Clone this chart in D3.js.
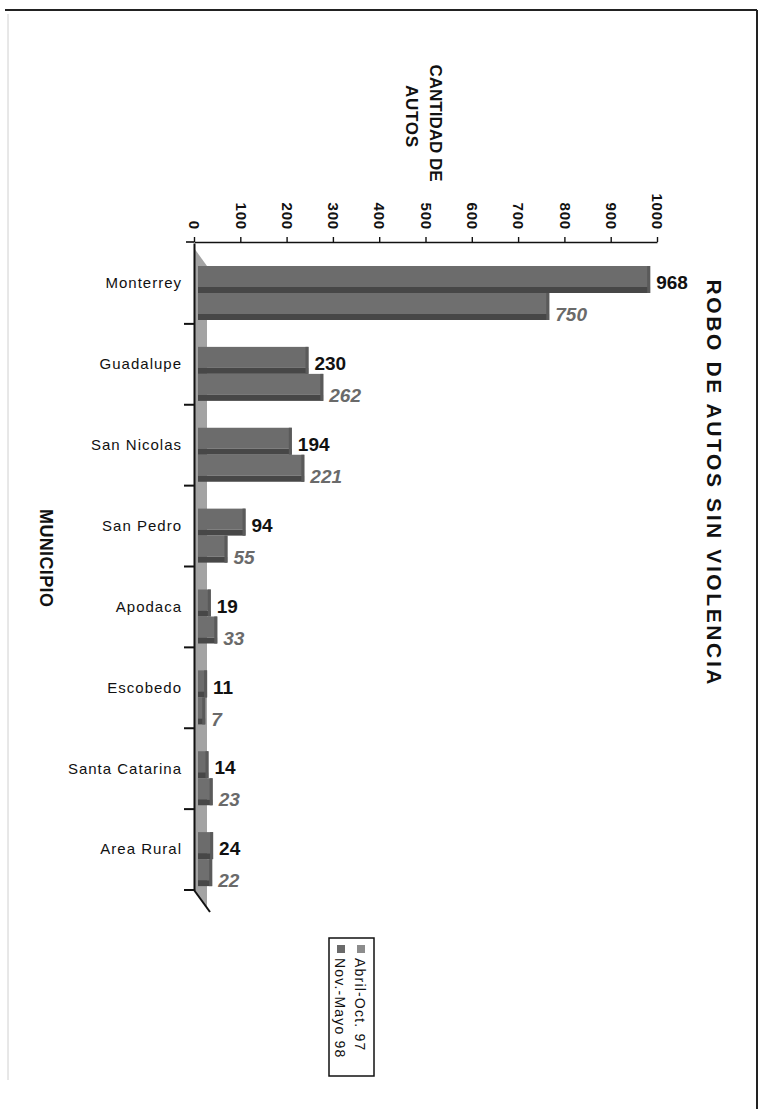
<!DOCTYPE html>
<html>
<head>
<meta charset="utf-8">
<script src="https://cdn.jsdelivr.net/npm/d3@7"></script>
<style>
  body { margin: 0; background: #fff; }
  svg text { font-family: "Liberation Sans", Arial, sans-serif; }
</style>
</head>
<body>
<div id="canvas"></div>
<script>
width = 764;
height = 1109;

// data
var municipios = ["Monterrey", "Guadalupe", "San Nicolas", "San Pedro", "Apodaca", "Escobedo", "Santa Catarina", "Area Rural"];
var abrilOct97 = [968, 230, 194, 94, 19, 11, 14, 24];
var novMayo98 = [750, 262, 221, 55, 33, 7, 23, 22];
var seriesNames = ["Abril-Oct. 97", "Nov.-Mayo 98"];
var tickValues = [0, 100, 200, 300, 400, 500, 600, 700, 800, 900, 1000];

var svg = d3.select("#canvas")
  .append("svg")
  .attr("width", width)
  .attr("height", height)
  .style("background-color", "white");

// frame of the scanned page
svg.append("line").attr("x1", 5).attr("y1", 10).attr("x2", 757).attr("y2", 10)
  .attr("stroke", "#222").attr("stroke-width", 2);
svg.append("line").attr("x1", 757).attr("y1", 10).attr("x2", 757).attr("y2", height)
  .attr("stroke", "#222").attr("stroke-width", 2);
svg.append("line").attr("x1", 8).attr("y1", 14).attr("x2", 8).attr("y2", 1080)
  .attr("stroke", "#d0d0d0").attr("stroke-width", 1);

var x = d3.scaleLinear().domain([0, 1000]).range([194, 657]);
var y = d3.scaleBand().domain(municipios).range([243, 890]);
var ySub = d3.scaleBand().domain(seriesNames).range([23, 77]);

var depthX = 13, depthY = 18;
var x0 = x(0);

// floor of the 3d plot (left side strip)
svg.append("polygon")
  .attr("points", [
    [x0, y.range()[0] + 5],
    [x0 + depthX, y.range()[0] + 5 + depthY],
    [x0 + depthX, y.range()[1] + depthY],
    [x0, y.range()[1]]
  ].join(" "))
  .attr("fill", "#a3a3a3");

// bars
var rows = [];
municipios.forEach(function (m, i) {
  rows.push({ cat: m, serie: seriesNames[0], value: abrilOct97[i], idx: 0 });
  rows.push({ cat: m, serie: seriesNames[1], value: novMayo98[i], idx: 1 });
});

var barH = ySub.bandwidth();
var stripH = 6;

var bars = svg.selectAll(".bar")
  .data(rows)
  .join("g")
  .attr("class", "bar")
  .attr("transform", function (d) {
    return "translate(0," + (y(d.cat) + ySub(d.serie)) + ")";
  });

bars.append("rect")
  .attr("x", x0 + 4)
  .attr("y", 0)
  .attr("width", function (d) { return x(d.value) + 8 - (x0 + 4); })
  .attr("height", barH - stripH)
  .attr("fill", function (d) { return d.idx == 0 ? "#6c6c6c" : "#6f6f6f"; });

bars.append("rect")
  .attr("x", x0 + 4)
  .attr("y", barH - stripH)
  .attr("width", function (d) { return x(d.value) + 8 - (x0 + 4); })
  .attr("height", stripH)
  .attr("fill", "#474747");

bars.append("rect")
  .attr("x", function (d) { return x(d.value) + 5; })
  .attr("y", 0)
  .attr("width", 3)
  .attr("height", barH)
  .attr("fill", "#5a5a5a");

// value labels
bars.append("text")
  .attr("x", function (d) { return x(d.value) + 14; })
  .attr("y", function (d) { return d.idx == 0 ? barH / 2 + 3 : barH / 2 + 8; })
  .attr("dy", "0.35em")
  .attr("font-size", 19)
  .attr("font-weight", "bold")
  .attr("font-style", function (d) { return d.idx == 0 ? "normal" : "italic"; })
  .attr("fill", function (d) { return d.idx == 0 ? "#111" : "#6a6a6a"; })
  .text(function (d) { return d.value; });

// value axis on top
var xAxis = d3.axisTop(x).tickValues(tickValues).tickFormat(d3.format("d"))
  .tickSize(5).tickSizeOuter(0).tickPadding(6);
var gx = svg.append("g")
  .attr("transform", "translate(0,242)")
  .call(xAxis);
gx.select(".domain").attr("stroke", "#111").attr("stroke-width", 1.6);
gx.selectAll(".tick line").attr("stroke", "#111").attr("stroke-width", 1.4);
gx.selectAll(".tick text")
  .attr("transform", "rotate(90)")
  .attr("x", -12)
  .attr("y", 0)
  .attr("dy", "0.35em")
  .attr("text-anchor", "end")
  .attr("font-size", 15)
  .attr("font-weight", "bold")
  .attr("letter-spacing", 0.8)
  .attr("fill", "#111");
svg.append("line").attr("x1", 186).attr("y1", 242).attr("x2", x0).attr("y2", 242)
  .attr("stroke", "#111").attr("stroke-width", 1.6);

// category axis
var yAxis = d3.axisLeft(y).tickSize(0).tickPadding(12);
var gy = svg.append("g")
  .attr("transform", "translate(" + x0 + ",0)")
  .call(yAxis);
gy.select(".domain").attr("stroke", "#111").attr("stroke-width", 2);
gy.selectAll(".tick text")
  .attr("font-size", 15)
  .attr("letter-spacing", 1)
  .attr("fill", "#111");

svg.selectAll(".catTick")
  .data(municipios)
  .join("line")
  .attr("class", "catTick")
  .attr("x1", x0 - 10)
  .attr("x2", x0)
  .attr("y1", function (d) { return y(d) + y.bandwidth(); })
  .attr("y2", function (d) { return y(d) + y.bandwidth(); })
  .attr("stroke", "#111")
  .attr("stroke-width", 2);

// bottom edge of floor
svg.append("line")
  .attr("x1", x0).attr("y1", y.range()[1])
  .attr("x2", x0 + depthX + 3).attr("y2", y.range()[1] + depthY + 4)
  .attr("stroke", "#111").attr("stroke-width", 2);

// titles (rotated like the scan)
function rotText(cx, cy, txt, size, len) {
  var t = svg.append("text")
    .attr("transform", "translate(" + cx + "," + cy + ") rotate(90)")
    .attr("text-anchor", "middle")
    .attr("dy", "0.35em")
    .attr("font-size", size)
    .attr("font-weight", "bold")
    .attr("fill", "#111")
    .text(txt);
  if (len) t.attr("textLength", len).attr("lengthAdjust", "spacing");
  return t;
}

rotText(714, 482, "ROBO DE AUTOS SIN VIOLENCIA", 21, 405);
rotText(436, 123, "CANTIDAD DE", 17, 117);
rotText(412, 116, "AUTOS", 17, 62);
rotText(46, 558, "MUNICIPIO", 18, 98);

// legend
var legend = svg.append("g");
legend.append("rect")
  .attr("x", 329).attr("y", 938)
  .attr("width", 45).attr("height", 138)
  .attr("fill", "white").attr("stroke", "#111").attr("stroke-width", 1.5);

var legendColors = ["#8c8c8c", "#6a6a6a"];
var legendX = [360, 340];
seriesNames.forEach(function (s, i) {
  legend.append("rect")
    .attr("x", legendX[i] - 3).attr("y", 945)
    .attr("width", 8).attr("height", 8)
    .attr("fill", legendColors[i]);
  legend.append("text")
    .attr("transform", "translate(" + legendX[i] + ",958) rotate(90)")
    .attr("dy", "0.35em")
    .attr("font-size", 14)
    .attr("letter-spacing", 1.2)
    .attr("fill", "#111")
    .text(s);
});
</script>
</body>
</html>
